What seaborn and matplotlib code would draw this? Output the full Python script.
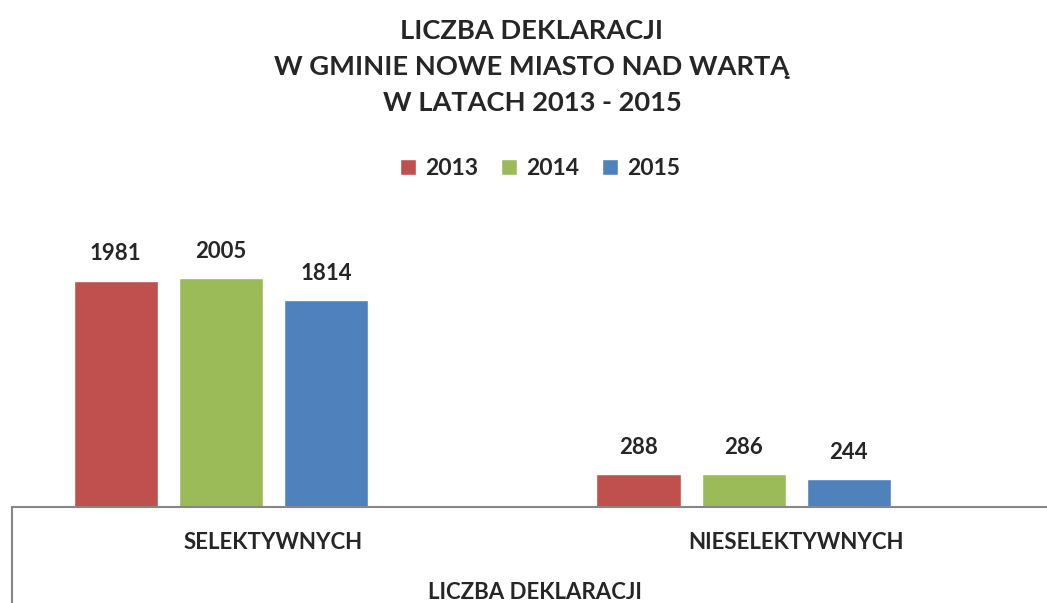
import numpy as np
import pandas as pd
import seaborn as sns
import matplotlib.pyplot as plt
from matplotlib.patches import Patch

# dane z wykresu
kategorie = ["SELEKTYWNYCH", "NIESELEKTYWNYCH"]
lata = ["2013", "2014", "2015"]
deklaracje_2013 = [1981, 288]
deklaracje_2014 = [2005, 286]
deklaracje_2015 = [1814, 244]
kolory = ["#C0504D", "#9BBB59", "#4F81BD"]

tytul = "LICZBA DEKLARACJI\nW GMINIE NOWE MIASTO NAD WARTĄ\nW LATACH 2013 - 2015"
tytul_osi = "LICZBA DEKLARACJI"

df = pd.DataFrame({
    "rodzaj": kategorie * 3,
    "rok": [lata[0]] * 2 + [lata[1]] * 2 + [lata[2]] * 2,
    "liczba": deklaracje_2013 + deklaracje_2014 + deklaracje_2015,
})

sns.set_style("white")
plt.rcParams['font.family'] = ['Lato', 'DejaVu Sans']
plt.rcParams['font.weight'] = 'bold'

W, H = 1047, 603
fig = plt.figure(figsize=(W / 100, H / 100), dpi=100)
ax = fig.add_axes([12 / W, 96 / H, (W - 12) / W, 285 / H])

# pusta czwarta seria jak w Excelu (przesuniecie slupkow w lewo)
rzedy = lata + ["pusta"]
paleta = dict(zip(rzedy, kolory + ["white"]))
sns.barplot(data=df, x="rodzaj", y="liczba", hue="rok", hue_order=rzedy,
            palette=paleta, width=0.804, gap=0.2, saturation=1,
            legend=False, ax=ax)

for c in ax.containers:
    if len(c) and not np.isnan(c.datavalues).all():
        ax.bar_label(c, fmt="%d", padding=12, fontsize=16, fontweight='bold')

ax.set_xlim(-0.5, 1.48)
ax.set_ylim(0, 2500)
ax.set_xticks([])
ax.set_yticks([])
ax.set_xlabel("")
ax.set_ylabel("")
for s in ["top", "right", "left"]:
    ax.spines[s].set_visible(False)
ax.spines["bottom"].set_color("#868686")
ax.spines["bottom"].set_linewidth(1.5)

# ramka osi kategorii
ax.plot([0, 0], [0, -0.4], transform=ax.transAxes, color="#868686",
        lw=1.5, clip_on=False)
for i, k in enumerate(kategorie):
    ax.text(i, -0.125, k, transform=ax.get_xaxis_transform(), ha="center",
            va="center", fontsize=16, fontweight='bold')
ax.text(0.5, -0.30, tytul_osi, transform=ax.get_xaxis_transform(),
        ha="center", va="center", fontsize=16, fontweight='bold')

fig.text(532 / W, 1 - 67 / H, tytul, ha="center", va="center",
         fontsize=19.6, fontweight='bold', linespacing=1.6)

uchwyty = [Patch(facecolor=k, label=r) for k, r in zip(kolory, lata)]
fig.legend(handles=uchwyty, loc="center", bbox_to_anchor=(540 / W, 1 - 169 / H),
           ncol=3, frameon=False, prop={'size': 16.5, 'weight': 'bold'},
           handlelength=0.7, handleheight=0.7, handletextpad=0.4,
           columnspacing=1.0)

fig.savefig("out.png", dpi=100)
